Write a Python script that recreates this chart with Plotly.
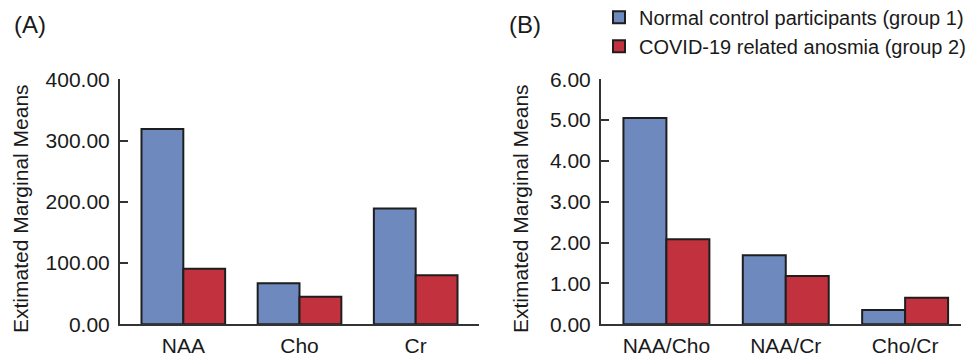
import plotly.graph_objects as go
from plotly.subplots import make_subplots

# ---- data ----
cats_a = ["NAA", "Cho", "Cr"]
group1_a = [319, 67, 189]
group2_a = [90.5, 45, 80]

cats_b = ["NAA/Cho", "NAA/Cr", "Cho/Cr"]
group1_b = [5.05, 1.69, 0.35]
group2_b = [2.08, 1.18, 0.65]

yticks_a = [0, 100, 200, 300, 400]
yticks_b = [0, 1, 2, 3, 4, 5, 6]

name1 = "Normal control participants (group 1)"
name2 = "COVID-19 related anosmia (group 2)"
ytitle = "Extimated Marginal Means"

# ---- style ----
BLUE = "#6d89bd"
RED = "#c1323e"
EDGE = "#1e1e1e"
AXIS = "#333333"
FONT = "Arial, Liberation Sans, sans-serif"
TXT = "#1a1a1a"

fig = make_subplots(rows=1, cols=2)

fig.add_trace(go.Bar(x=cats_a, y=group1_a, name=name1, marker=dict(color=BLUE, line=dict(color=EDGE, width=2)),
                     legendgroup="g1"), row=1, col=1)
fig.add_trace(go.Bar(x=cats_a, y=group2_a, name=name2, marker=dict(color=RED, line=dict(color=EDGE, width=2)),
                     legendgroup="g2"), row=1, col=1)
fig.add_trace(go.Bar(x=cats_b, y=group1_b, name=name1, marker=dict(color=BLUE, line=dict(color=EDGE, width=2)),
                     legendgroup="g1", showlegend=False), row=1, col=2)
fig.add_trace(go.Bar(x=cats_b, y=group2_b, name=name2, marker=dict(color=RED, line=dict(color=EDGE, width=2)),
                     legendgroup="g2", showlegend=False), row=1, col=2)

W, H = 968, 359
ydom = [(H - 324.3) / H, (H - 79.3) / H]

common_x = dict(showline=True, linecolor=AXIS, linewidth=2, ticks="", showgrid=False, zeroline=False,
                automargin=False,
                tickfont=dict(size=21, color=TXT, family=FONT), ticklabelstandoff=1)
common_y = dict(showline=True, linecolor=AXIS, linewidth=2, ticks="inside", ticklen=8, tickwidth=2,
                tickcolor=AXIS, showgrid=False, zeroline=False, automargin=False,
                tickfont=dict(size=21, color=TXT, family=FONT), ticklabelstandoff=4)

fig.update_xaxes(common_x)
fig.update_yaxes(common_y)

title_font = dict(size=21, color=TXT, family=FONT)

fig.update_layout(
    xaxis=dict(domain=[120 / W, 479 / W], range=[-0.545, 2.545]),
    xaxis2=dict(domain=[601 / W, 960.5 / W], range=[-0.548, 2.464]),
    yaxis=dict(domain=ydom, range=[0, 400], tickvals=yticks_a, tickformat=".2f"),
    yaxis2=dict(domain=ydom, range=[0, 6], tickvals=yticks_b, tickformat=".2f"),
    barmode="group",
    bargap=0.28,
    bargroupgap=0,
    width=W, height=H,
    margin=dict(l=0, r=0, t=0, b=0, autoexpand=False),
    paper_bgcolor="white",
    plot_bgcolor="white",
    font=dict(family=FONT, color=TXT),
    showlegend=True,
    legend=dict(x=599 / W, y=1.006, xanchor="left", yanchor="top", bgcolor="rgba(0,0,0,0)",
                font=dict(size=20, color=TXT, family=FONT), tracegroupgap=0, traceorder="normal"),
    annotations=[
        dict(text="(A)", x=12 / W, y=(H - 25) / H, xref="paper", yref="paper", xanchor="left", yanchor="middle",
             showarrow=False, font=dict(size=24, color=TXT, family=FONT)),
        dict(text="(B)", x=507 / W, y=(H - 25) / H, xref="paper", yref="paper", xanchor="left", yanchor="middle",
             showarrow=False, font=dict(size=24, color=TXT, family=FONT)),
        dict(text=ytitle, x=20 / W, y=(H - 209) / H, xref="paper", yref="paper", xanchor="center",
             yanchor="middle", textangle=-90, showarrow=False, font=title_font),
        dict(text=ytitle, x=520 / W, y=(H - 209) / H, xref="paper", yref="paper", xanchor="center",
             yanchor="middle", textangle=-90, showarrow=False, font=title_font),
    ],
)

fig.write_html("out.html")
